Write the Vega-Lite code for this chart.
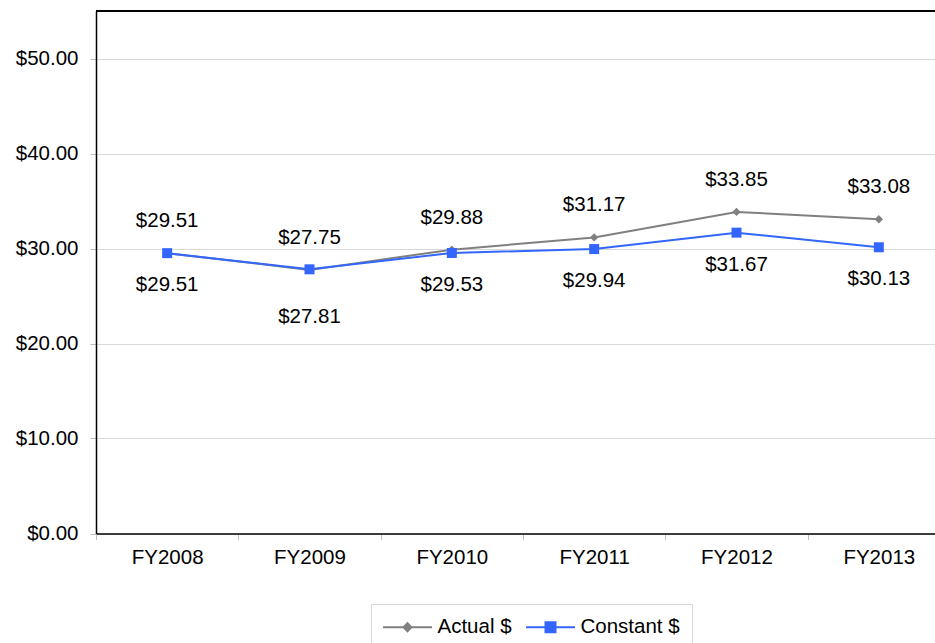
{
  "$schema": "https://vega.github.io/schema/vega-lite/v6.json",
  "autosize": {"type": "none"},
  "padding": {"left": 96, "top": 11, "right": 0, "bottom": 110},
  "width": 839,
  "height": 522.5,
  "background": "white",
  "config": {
    "view": {"stroke": null},
    "font": "Liberation Sans",
    "text": {"font": "Liberation Sans"}
  },
  "data": {
    "values": [
      {"year": "FY2008", "series": "Actual $", "value": 29.51},
      {"year": "FY2009", "series": "Actual $", "value": 27.75},
      {"year": "FY2010", "series": "Actual $", "value": 29.88},
      {"year": "FY2011", "series": "Actual $", "value": 31.17},
      {"year": "FY2012", "series": "Actual $", "value": 33.85},
      {"year": "FY2013", "series": "Actual $", "value": 33.08},
      {"year": "FY2008", "series": "Constant $", "value": 29.51},
      {"year": "FY2009", "series": "Constant $", "value": 27.81},
      {"year": "FY2010", "series": "Constant $", "value": 29.53},
      {"year": "FY2011", "series": "Constant $", "value": 29.94},
      {"year": "FY2012", "series": "Constant $", "value": 31.67},
      {"year": "FY2013", "series": "Constant $", "value": 30.13}
    ]
  },
  "encoding": {
    "x": {
      "field": "year", "type": "nominal",
      "scale": {"type": "band", "range": [0, 854], "paddingInner": 0, "paddingOuter": 0},
      "axis": {
        "title": null, "labelAngle": 0, "labelFontSize": 20.5, "labelColor": "black",
        "labelFont": "Liberation Sans", "domainColor": "black", "domainWidth": 1.5,
        "tickBand": "extent", "tickColor": "#c0c0c0", "tickSize": 6, "labelPadding": 8
      }
    },
    "y": {
      "field": "value", "type": "quantitative",
      "scale": {"domain": [0, 55], "nice": false},
      "axis": {
        "title": null, "values": [0, 10, 20, 30, 40, 50], "format": "$.2f",
        "labelFontSize": 20.5, "labelColor": "black", "labelFont": "Liberation Sans",
        "domainColor": "black", "domainWidth": 1.5, "tickColor": "#c0c0c0", "tickSize": 6,
        "labelPadding": 12, "grid": true, "gridColor": "#d9d9d9", "gridWidth": 1
      }
    }
  },
  "layer": [
    {
      "mark": {"type": "rule", "color": "black", "strokeWidth": 1.5},
      "encoding": {"y": {"datum": 55}, "x": {"value": 0}, "x2": {"value": 854}}
    },
    {
      "mark": {"type": "line", "strokeWidth": 2},
      "encoding": {
        "color": {
          "field": "series", "type": "nominal",
          "scale": {"domain": ["Actual $", "Constant $"], "range": ["#808080", "#3366ff"]},
          "legend": {
            "title": null, "orient": "none", "legendX": 275, "legendY": 593,
            "direction": "horizontal", "strokeColor": "#d9d9d9", "padding": 12,
            "labelFontSize": 20.5, "labelColor": "black", "labelFont": "Liberation Sans",
            "symbolSize": 400, "symbolStrokeWidth": 2, "symbolOffset": 13.5,
            "labelOffset": 19, "columnPadding": 10,
            "encode": {
              "symbols": {
                "update": {
                  "shape": {"signal": "datum.value === 'Actual $' ? 'M-2.45,0H2.45M0,-0.4L0.4,0L0,0.4L-0.4,0Z' : 'M-2.45,0H2.45M-0.5,-0.5H0.5V0.5H-0.5Z'"},
                  "fill": {"signal": "datum.value === 'Actual $' ? '#808080' : '#3366ff'"},
                  "stroke": {"signal": "datum.value === 'Actual $' ? '#808080' : '#3366ff'"},
                  "fillOpacity": {"value": 1},
                  "strokeWidth": {"value": 2},
                  "size": {"value": 400}
                }
              }
            }
          }
        }
      }
    },
    {
      "transform": [{"filter": "datum.series === 'Actual $'"}],
      "mark": {"type": "point", "filled": true, "opacity": 1, "shape": "diamond", "size": 70, "color": "#808080"}
    },
    {
      "transform": [{"filter": "datum.series === 'Constant $'"}],
      "mark": {"type": "point", "filled": true, "opacity": 1, "shape": "square", "size": 100, "color": "#3366ff"}
    },
    {
      "transform": [{"filter": "datum.series === 'Actual $'"}],
      "mark": {"type": "text", "dy": -32, "fontSize": 20.5, "color": "black", "baseline": "middle"},
      "encoding": {"text": {"field": "value", "type": "quantitative", "format": "$.2f"}}
    },
    {
      "transform": [{"filter": "datum.series === 'Constant $' && datum.year !== 'FY2009'"}],
      "mark": {"type": "text", "dy": 32, "fontSize": 20.5, "color": "black", "baseline": "middle"},
      "encoding": {"text": {"field": "value", "type": "quantitative", "format": "$.2f"}}
    },
    {
      "transform": [{"filter": "datum.series === 'Constant $' && datum.year === 'FY2009'"}],
      "mark": {"type": "text", "dy": 48, "fontSize": 20.5, "color": "black", "baseline": "middle"},
      "encoding": {"text": {"field": "value", "type": "quantitative", "format": "$.2f"}}
    }
  ]
}
